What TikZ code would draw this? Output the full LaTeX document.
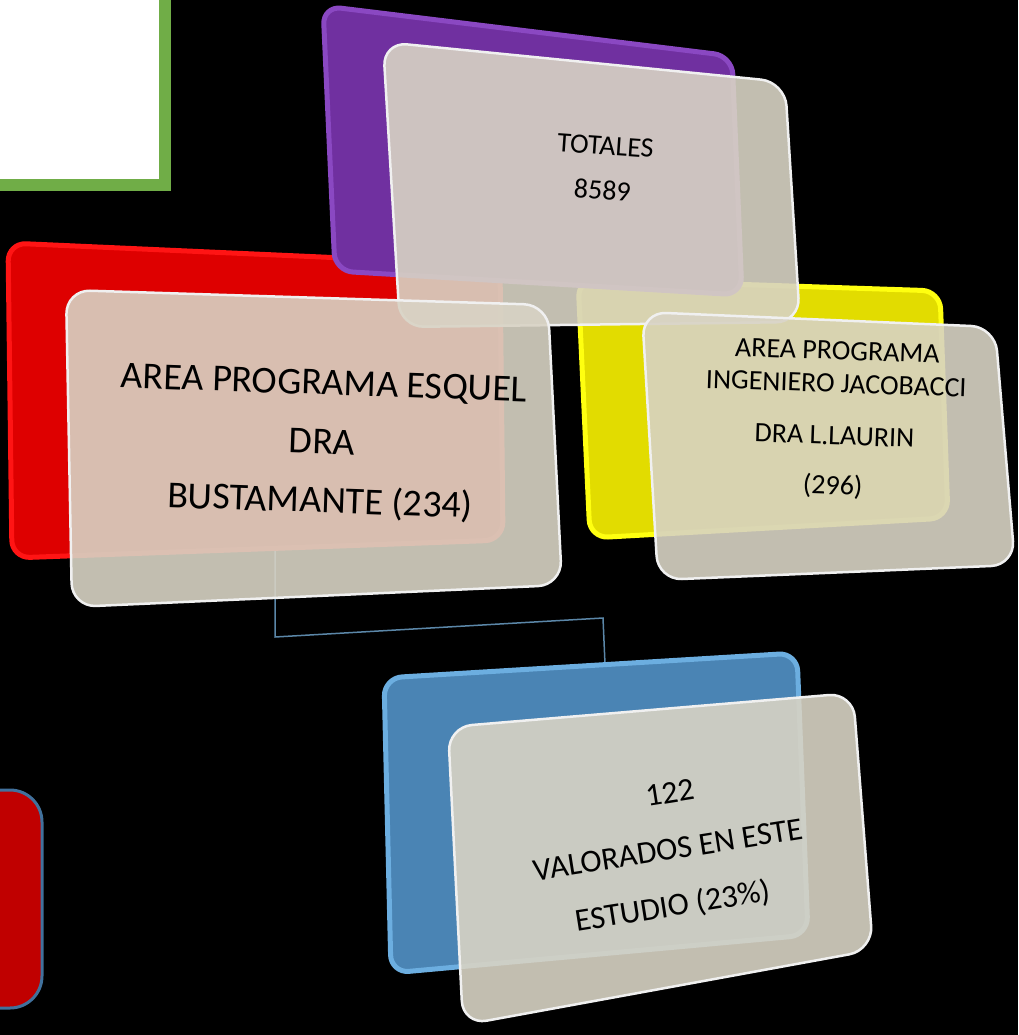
\documentclass[tikz,border=0pt]{standalone}
\usepackage{fontspec}
\setmainfont{Carlito}
\usepackage{tikz}
\definecolor{LeafGreen}{HTML}{70AD47}
\definecolor{DeepRed}{HTML}{C00000}
\definecolor{SteelRim}{HTML}{41719C}
\definecolor{LinkBlue}{HTML}{5B87A8}
\definecolor{PurpFill}{HTML}{7030A0}
\definecolor{PurpRim}{HTML}{8A48C2}
\definecolor{RedFill}{HTML}{DE0000}
\definecolor{RedRim}{HTML}{FF1414}
\definecolor{YelFill}{HTML}{E2DC00}
\definecolor{YelRim}{HTML}{FFFF10}
\definecolor{BlueFill}{HTML}{4A84B4}
\definecolor{BlueRim}{HTML}{6CAEE0}
\definecolor{CardBeige}{HTML}{D8D3C4}

\begin{document}
\begin{tikzpicture}[x=1pt,y=-1pt,
  backshape/.style={rounded corners=18pt, line width=5pt},
  glass/.style={rounded corners=24pt, fill=CardBeige, fill opacity=0.9, draw=white!88!gray, line width=2.5pt},
  cardtext/.style={align=center, text=black},
  linkline/.style={draw=LinkBlue, line width=1.5pt}]
\fill[black] (0,0) rectangle (1018,1035);
\useasboundingbox (0,0) rectangle (1018,1035);
% corner boxes
\draw[line width=12pt, LeafGreen, fill=white] (-20,-20) rectangle (165,185);
\draw[line width=3pt, SteelRim, fill=DeepRed, rounded corners=32pt] (-40,790) rectangle (42,1008);
%
\coordinate (esqfoot) at (275,548);
\coordinate (bendL) at (275,637);
\coordinate (bendR) at (603,618);
\coordinate (valtop) at (605,664);
\draw[linkline] (esqfoot) -- (bendL) -- (bendR) -- (valtop);
% coloured backs
\draw[backshape, RedRim, fill=RedFill] (8,243) -- (500,265) -- (503,540) -- (12,558) -- cycle;
\draw[backshape, YelRim, fill=YelFill] (578,279) -- (940,291) -- (948,518) -- (590,538) -- cycle;
\draw[backshape, BlueRim, fill=BlueFill] (384,678) -- (797,653) -- (808,935) -- (391,973) -- cycle;
\draw[backshape, PurpRim, fill=PurpFill] (323,6) -- (732,56) -- (742,295) -- (335,271) -- cycle;
% glass cards
\draw[glass] (383,42) -- (785,82) -- (800,322) -- (400,327) -- cycle;
\draw[glass] (66,290) -- (548,305) -- (562,585) -- (72,607) -- cycle;
\draw[glass] (642,312) -- (995,327) -- (1015,565) -- (658,580) -- cycle;
\draw[glass] (448,727) -- (853,693) -- (873,950) -- (463,1025) -- cycle;
%
\node[cardtext, rotate=-4, font=\fontsize{28}{45}\selectfont] (tot) at (604,168) {TOTALES\\8589};
\node[cardtext, rotate=-2, font=\fontsize{38}{59}\selectfont] (esq) at (322,444) {AREA PROGRAMA ESQUEL\\DRA\\BUSTAMANTE (234)};
\node[cardtext, rotate=-2, font=\fontsize{28}{33}\selectfont] (jac) at (835,420) {AREA PROGRAMA\\INGENIERO JACOBACCI\\[19pt]DRA L.LAURIN\\[17pt](296)};
\node[cardtext, rotate=9, font=\fontsize{32}{56}\selectfont] (val) at (668,852) {\hspace*{22pt}122\\VALORADOS EN ESTE\\ESTUDIO (23\%)\hspace*{8pt}};
\end{tikzpicture}
\end{document}
